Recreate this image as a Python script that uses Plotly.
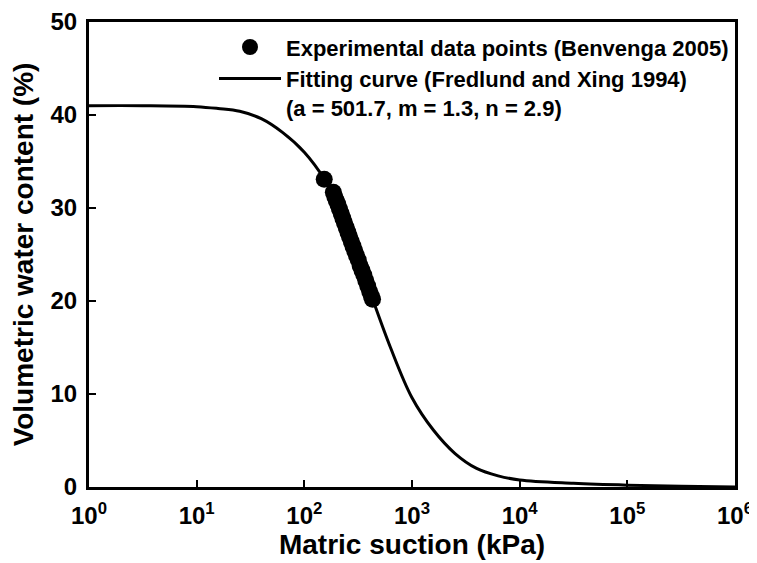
import plotly.graph_objects as go

# Experimental data points (Benvenga 2005)
suction_exp = [153, 186, 192, 198, 205, 212, 220, 228, 236, 245, 254, 263, 273, 283,
               294, 305, 317, 330, 343, 357, 372, 388, 405, 420, 430]
theta_exp = [33.1, 31.7, 31.2, 30.8, 30.4, 29.9, 29.4, 28.9, 28.4, 27.9, 27.4, 26.9, 26.4, 25.9,
             25.4, 24.9, 24.4, 23.8, 23.3, 22.8, 22.2, 21.6, 21.0, 20.5, 20.2]

# Fitting curve (Fredlund and Xing 1994)
suction_fit = [1, 3.16, 10, 15.8, 25.1, 39.8, 63.1, 100, 158, 200, 251, 398, 631, 1000, 1585,
               2512, 3981, 6310, 10000, 31623, 100000, 316228, 1000000]
theta_fit = [41.0, 41.0, 40.9, 40.7, 40.4, 39.6, 38.1, 36.0, 32.9, 30.7, 27.6, 21.3, 15.0, 9.6, 6.1,
             3.6, 2.0, 1.2, 0.75, 0.4, 0.2, 0.08, 0.0]

x_tickvals = [1, 10, 100, 1000, 10000, 100000, 1000000]
x_ticktext = ["10<sup>0</sup>", "10<sup>1</sup>", "10<sup>2</sup>", "10<sup>3</sup>",
              "10<sup>4</sup>", "10<sup>5</sup>", "10<sup>6</sup>"]
y_tickvals = [0, 10, 20, 30, 40, 50]

FONT = "Liberation Sans, Arial, sans-serif"

fig = go.Figure()
fig.add_trace(go.Scatter(
    x=suction_exp, y=theta_exp, mode="markers",
    name="Experimental data points (Benvenga 2005)",
    marker=dict(color="black", size=17, symbol="circle", line=dict(width=0)),
))
fig.add_trace(go.Scatter(
    x=suction_fit, y=theta_fit, mode="lines",
    name="Fitting curve (Fredlund and Xing 1994)<br>(a = 501.7, m = 1.3, n = 2.9)",
    line=dict(color="black", width=3, shape="spline", smoothing=1.0),
))

# the page body has an 8 px margin, so the figure is 8 px smaller than the window
fig.update_layout(
    width=749, height=555,
    margin=dict(l=81, r=22, t=14, b=76),
    paper_bgcolor="white", plot_bgcolor="white",
    font=dict(family=FONT, color="black", weight="bold"),
    showlegend=True,
    legend=dict(
        x=0.1935, y=0.991, xanchor="left", yanchor="top",
        bgcolor="rgba(0,0,0,0)", borderwidth=0,
        font=dict(family=FONT, size=22, color="black", weight="bold"),
        valign="top", itemwidth=62, tracegroupgap=0,
    ),
)
fig.update_xaxes(
    type="log", range=[0, 6], automargin=False,
    tickvals=x_tickvals, ticktext=x_ticktext,
    tickfont=dict(family=FONT, size=24, color="black", weight="bold"),
    ticks="inside", ticklen=7, tickwidth=2, tickcolor="black",
    showline=True, linewidth=3, linecolor="black", mirror=True,
    showgrid=False, zeroline=False, ticklabelstandoff=5,
    title=dict(text="Matric suction (kPa)", standoff=0,
               font=dict(family=FONT, size=28, color="black", weight="bold")),
)
fig.update_yaxes(
    range=[0, 50], tickvals=y_tickvals, automargin=False,
    tickfont=dict(family=FONT, size=24, color="black", weight="bold"),
    ticks="inside", ticklen=7, tickwidth=2, tickcolor="black",
    showline=True, linewidth=3, linecolor="black", mirror=True,
    showgrid=False, zeroline=False, ticklabelstandoff=4,
    title=dict(text="Volumetric water content (%)", standoff=13,
               font=dict(family=FONT, size=28, color="black", weight="bold")),
)

fig.write_html("out.html")
